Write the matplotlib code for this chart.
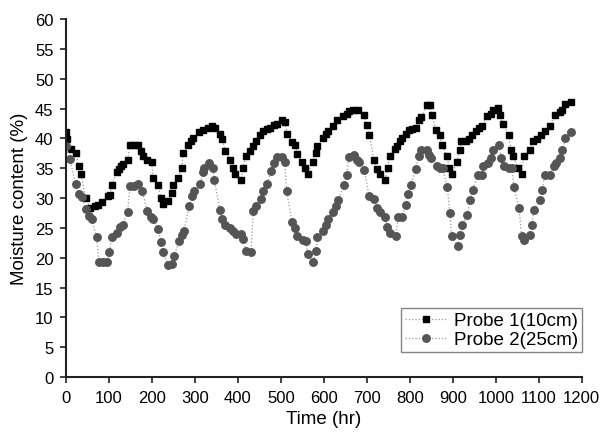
import numpy as np
import matplotlib.pyplot as plt

# Probe 1 (10 cm depth): time (hr) and moisture content (%)
p1_time = [0, 3, 11, 23, 29, 34, 46, 56, 67, 75, 83, 97, 102, 106, 118, 123, 129, 133,
           143, 149, 158, 168, 174, 180, 189, 199, 203, 215, 220, 226, 238, 246, 250,
           261, 269, 273, 284, 291, 296, 310, 319, 331, 339, 346, 358, 364, 370, 382,
           389, 394, 407, 412, 418, 429, 436, 441, 451, 459, 467, 474, 484, 490, 503,
           509, 515, 525, 533, 538, 548, 556, 562, 574, 581, 585, 597, 606, 610, 622,
           631, 645, 653, 658, 668, 680, 693, 700, 705, 717, 724, 730, 742, 748, 753,
           765, 769, 777, 781, 792, 798, 806, 814, 822, 827, 839, 847, 851, 861, 869,
           874, 887, 891, 897, 910, 916, 920, 930, 937, 945, 955, 961, 967, 980, 988,
           994, 1005, 1009, 1017, 1030, 1036, 1040, 1052, 1060, 1065, 1079, 1087, 1095,
           1106, 1114, 1126, 1137, 1149, 1155, 1162, 1174]
p1_moist = [41.0, 39.9, 38.2, 37.5, 35.4, 34.1, 30.0, 28.3, 28.6, 28.8, 29.3, 30.4, 30.5,
            32.1, 34.3, 34.9, 35.4, 35.7, 36.4, 38.9, 38.9, 38.9, 37.9, 37.1, 36.3, 36.0,
            33.3, 32.1, 30.0, 29.0, 29.5, 30.8, 32.1, 33.3, 35.1, 37.5, 38.9, 39.6, 40.0,
            41.0, 41.4, 41.8, 42.0, 41.7, 40.7, 39.9, 37.9, 36.4, 35.0, 34.0, 33.0, 35.0,
            37.0, 37.9, 38.8, 39.5, 40.5, 41.3, 41.5, 41.8, 42.2, 42.4, 43.1, 42.7, 40.7,
            39.4, 38.9, 37.3, 36.1, 35.0, 34.0, 36.1, 37.5, 38.8, 40.0, 40.7, 41.3, 42.1,
            43.0, 43.8, 44.0, 44.6, 44.7, 44.7, 43.9, 42.2, 40.6, 36.3, 34.9, 34.0, 33.0,
            35.0, 37.0, 38.2, 38.8, 39.5, 40.0, 40.8, 41.4, 41.6, 41.8, 43.0, 43.5, 45.6,
            45.6, 43.9, 41.4, 40.6, 38.9, 37.0, 35.0, 34.0, 36.1, 38.1, 39.6, 39.6, 39.9,
            40.5, 41.2, 41.7, 42.1, 43.8, 44.1, 44.8, 45.1, 43.9, 42.4, 40.5, 38.0, 37.1,
            35.0, 34.0, 37.1, 38.1, 39.6, 39.9, 40.5, 41.3, 42.1, 43.9, 44.4, 44.8, 45.8,
            46.1]

# Probe 2 (25 cm depth)
p2_time = [0, 9, 22, 29, 36, 46, 54, 60, 71, 77, 85, 95, 101, 106, 119, 126, 132, 143,
           149, 157, 168, 177, 189, 197, 203, 215, 220, 226, 238, 246, 251, 263, 269,
           274, 287, 292, 298, 312, 318, 322, 333, 341, 345, 358, 364, 370, 381, 388,
           395, 406, 412, 418, 430, 436, 441, 453, 459, 467, 478, 484, 490, 502, 509,
           513, 526, 533, 538, 552, 558, 562, 575, 581, 585, 598, 605, 610, 622, 628,
           633, 647, 653, 658, 670, 676, 682, 694, 705, 717, 724, 730, 742, 747, 753,
           767, 773, 781, 790, 796, 802, 814, 821, 825, 839, 844, 850, 864, 870, 876,
           887, 893, 897, 911, 916, 922, 934, 940, 946, 958, 967, 970, 982, 988, 994,
           1007, 1013, 1019, 1030, 1038, 1042, 1054, 1060, 1065, 1079, 1084, 1089, 1102,
           1108, 1114, 1127, 1135, 1141, 1150, 1155, 1162, 1174]
p2_moist = [38.8, 36.5, 32.3, 30.7, 30.1, 28.2, 27.0, 26.5, 23.4, 19.2, 19.2, 19.2, 20.9,
            23.4, 24.2, 25.1, 25.5, 27.7, 32.0, 32.0, 32.4, 31.2, 27.9, 26.8, 26.5, 24.8,
            22.7, 20.9, 18.7, 18.9, 20.2, 22.8, 23.8, 24.5, 28.6, 30.3, 31.1, 32.3, 34.3,
            35.0, 35.9, 35.0, 33.0, 28.0, 26.5, 25.4, 25.0, 24.5, 24.0, 24.0, 23.1, 21.1,
            20.9, 27.9, 28.7, 29.9, 31.1, 32.3, 34.6, 35.8, 36.9, 36.9, 36.1, 31.1, 26.0,
            24.9, 23.6, 23.0, 22.8, 20.7, 19.2, 21.1, 23.5, 24.4, 25.4, 26.4, 27.7, 28.7,
            29.7, 32.2, 33.9, 36.8, 37.2, 36.3, 36.0, 34.7, 30.4, 29.9, 28.4, 27.6, 26.9,
            25.1, 24.2, 23.7, 26.9, 26.8, 28.8, 30.7, 32.1, 34.9, 37.0, 38.1, 38.1, 37.2,
            36.7, 35.3, 35.0, 35.0, 31.8, 27.5, 23.7, 22.0, 23.8, 25.5, 27.1, 29.7, 31.4,
            33.9, 33.9, 35.3, 35.9, 36.7, 38.1, 38.9, 36.7, 35.3, 35.0, 35.0, 31.8, 28.4,
            23.7, 23.0, 23.8, 25.5, 28.0, 29.7, 31.4, 33.9, 33.9, 35.3, 35.9, 36.7, 38.1,
            40.0, 41.1]

plt.rc('font', family=['Liberation Sans', 'DejaVu Sans'], size=12)
plt.rc('xtick', direction='out', color='black')
plt.rc('ytick', direction='out', color='black')

fig = plt.figure(figsize=(6.06, 4.35), dpi=100)
ax = fig.add_axes([0.109, 0.131, 0.851, 0.823])

ax.plot(p1_time, p1_moist, linestyle=':', color='#999999', linewidth=0.9,
        marker='s', markersize=4.8, markerfacecolor='black', markeredgecolor='black',
        label='Probe 1(10cm)')
ax.plot(p2_time, p2_moist, linestyle=':', color='#999999', linewidth=0.9,
        marker='o', markersize=5.4, markerfacecolor='#555555', markeredgecolor='#555555',
        label='Probe 2(25cm)')

ax.set_xlim(0, 1200)
ax.set_ylim(0, 60)
ax.set_xticks(np.arange(0, 1201, 100))
ax.set_yticks(np.arange(0, 61, 5))
ax.tick_params(length=4, width=1.2, pad=5, colors='#222222', labelcolor='black')

for side in ['top', 'right']:
    ax.spines[side].set_visible(False)
for side in ['left', 'bottom']:
    ax.spines[side].set_linewidth(1.5)
    ax.spines[side].set_color('#222222')

ax.set_xlabel('Time (hr)', fontsize=13.5, labelpad=4)
ax.set_ylabel('Moisture content (%)', fontsize=13.5, labelpad=5)

leg = ax.legend(loc='lower right', bbox_to_anchor=(1.0, 0.07), fontsize=13.5,
                frameon=True, fancybox=False, handlelength=2.2, handletextpad=0.4,
                borderpad=0.2, labelspacing=0.1, borderaxespad=0.0)
leg.get_frame().set_edgecolor('#666666')
leg.get_frame().set_linewidth(1.0)

fig.savefig('out.png', dpi=100)
